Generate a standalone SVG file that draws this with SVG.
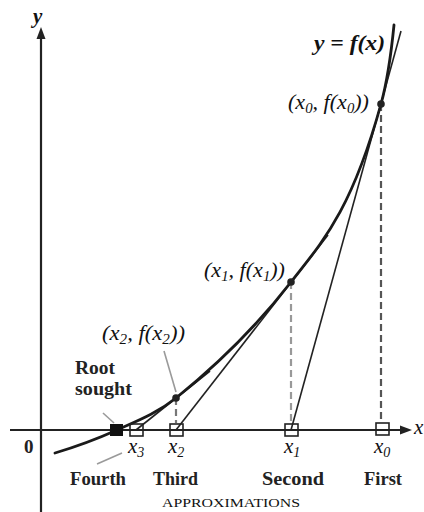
<svg xmlns="http://www.w3.org/2000/svg" width="424" height="512" viewBox="0 0 424 512">
<defs>
<style>
.ax{stroke:#222;stroke-width:2.2;fill:none}
.tan{stroke:#222;stroke-width:1.6;fill:none}
.crv{stroke:#1a1a1a;stroke-width:2.8;fill:none;stroke-linecap:round}
.dash{stroke-width:2.2;fill:none;stroke-dasharray:7 4}
.lead{stroke:#9a9a9a;stroke-width:1.6;fill:none}
.sq{stroke:#222;stroke-width:1.6;fill:none}
.w{font-family:"Liberation Serif",serif;font-weight:bold;font-size:19px;fill:#222}
.m{font-family:"Liberation Serif",serif;font-style:italic;font-size:21px;fill:#111}
.sub{font-size:14px}
.sc{font-family:"Liberation Serif",serif;font-size:12px;fill:#111}
</style>
</defs>
<rect width="424" height="512" fill="#fff"/>
<g id="axes">
<line class="ax" x1="41" y1="36" x2="41" y2="512"/>
<polygon points="41,27 36.5,39 45.5,39" fill="#222"/>
<line class="ax" x1="10" y1="430" x2="402" y2="430"/>
<polygon points="412,430 400,425.5 400,434.5" fill="#222"/>
<text class="m" x="33" y="23" font-weight="bold" font-size="19">y</text>
<text class="m" x="414" y="434" font-size="19">x</text>
<text class="w" x="24" y="453">0</text>
</g>
<g id="connectors">
<line class="dash" stroke="#555" x1="381" y1="104" x2="381" y2="423"/>
<line class="dash" stroke="#999" x1="291" y1="282" x2="291" y2="423"/>
<line class="dash" stroke="#777" stroke-dasharray="4 3" x1="176" y1="398" x2="176" y2="423"/>
<line class="tan" x1="291" y1="430" x2="401" y2="31"/>
<line class="tan" x1="176" y1="430" x2="328" y2="235"/>
<line class="tan" x1="136" y1="430" x2="210" y2="371"/>
<path class="crv" d="M55,453 C75,447 97,439 117,430 C136.7,421.1 156.3,413.7 176,398 C214.3,367.3 252.7,331.3 291,282 C321,243.4 351,212.6 381,104 C385.7,87.1 390.3,62.3 394,25"/>
<line class="lead" x1="164" y1="351" x2="176" y2="392"/>
<line class="lead" x1="103" y1="413" x2="114" y2="423"/>
<line class="lead" x1="97" y1="464" x2="122" y2="453"/>
</g>
<g id="points">
<circle cx="381" cy="104" r="3.8" fill="#222"/>
<circle cx="291" cy="282" r="3.8" fill="#222"/>
<circle cx="176" cy="398" r="3.8" fill="#222"/>
<rect x="110" y="424" width="13" height="12" fill="#111"/>
<rect class="sq" x="130" y="424" width="13" height="12"/>
<rect class="sq" x="170" y="424" width="13" height="12"/>
<rect class="sq" x="285" y="424" width="13" height="12"/>
<rect class="sq" x="376" y="423" width="13" height="12"/>
</g>
<g id="labels">
<text class="m" x="314" y="50" font-weight="bold" font-size="20" textLength="71" lengthAdjust="spacingAndGlyphs">y = f(x)</text>
<text class="m" x="288" y="109" textLength="81" lengthAdjust="spacingAndGlyphs">(x<tspan class="sub" dy="4">0</tspan><tspan dy="-4">, f(x</tspan><tspan class="sub" dy="4">0</tspan><tspan dy="-4">))</tspan></text>
<text class="m" x="204" y="277" textLength="81" lengthAdjust="spacingAndGlyphs">(x<tspan class="sub" dy="4">1</tspan><tspan dy="-4">, f(x</tspan><tspan class="sub" dy="4">1</tspan><tspan dy="-4">))</tspan></text>
<text class="m" x="102" y="340" textLength="83" lengthAdjust="spacingAndGlyphs">(x<tspan class="sub" dy="4">2</tspan><tspan dy="-4">, f(x</tspan><tspan class="sub" dy="4">2</tspan><tspan dy="-4">))</tspan></text>
<text class="w" x="75" y="374" textLength="40" lengthAdjust="spacingAndGlyphs">Root</text>
<text class="w" x="75" y="395" textLength="57" lengthAdjust="spacingAndGlyphs">sought</text>
<text class="m" x="128" y="453" font-size="20">x<tspan class="sub" dy="4">3</tspan></text>
<text class="m" x="168" y="453" font-size="20">x<tspan class="sub" dy="4">2</tspan></text>
<text class="m" x="284" y="453" font-size="20">x<tspan class="sub" dy="4">1</tspan></text>
<text class="m" x="374" y="453" font-size="20">x<tspan class="sub" dy="4">0</tspan></text>
<text class="w" x="70" y="485" textLength="56" lengthAdjust="spacingAndGlyphs">Fourth</text>
<text class="w" x="153" y="485" textLength="45" lengthAdjust="spacingAndGlyphs">Third</text>
<text class="w" x="262" y="485" textLength="62" lengthAdjust="spacingAndGlyphs">Second</text>
<text class="w" x="364" y="485" textLength="38" lengthAdjust="spacingAndGlyphs">First</text>
<text class="sc" x="162" y="507" textLength="138" lengthAdjust="spacingAndGlyphs">APPROXIMATIONS</text>
</g>
</svg>
